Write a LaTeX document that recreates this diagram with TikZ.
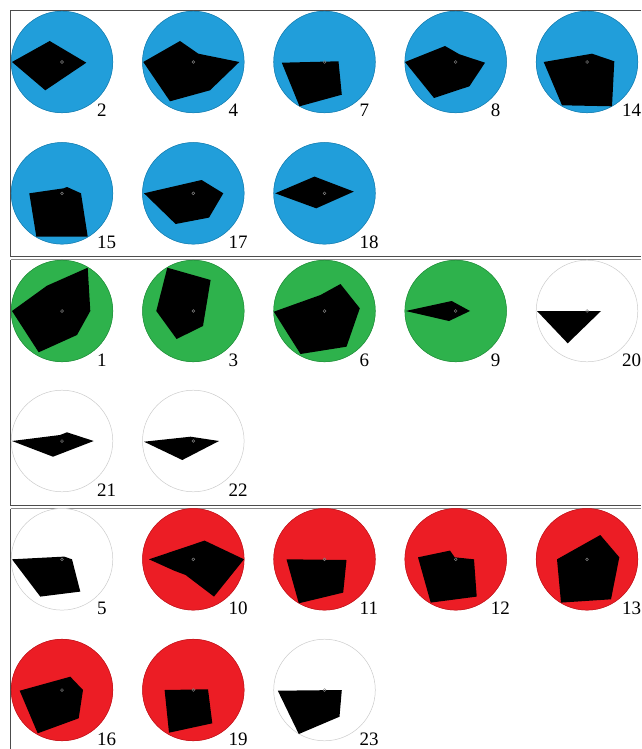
\documentclass[tikz,border=0pt]{standalone}
\usepackage{fontspec}
\setmainfont{Liberation Serif}
\definecolor{cblue}{RGB}{33,158,218}
\definecolor{cgreen}{RGB}{46,178,76}
\definecolor{cred}{RGB}{236,29,37}
\definecolor{cwhite}{RGB}{255,255,255}
\newcommand\cellglyph[5]{%
  \begin{scope}[shift={(#1,#2)}]
    \fill[#3] (0,0) circle[radius=51pt];
    \ifx#3cwhite\draw[ringline] (0,0) circle[radius=50.6pt];\else\draw[#3!80!black, line width=0.5pt] (0,0) circle[radius=50.8pt];\fi
    \begin{scope}
      \clip (0,0) circle[radius=51pt];
      \fill[black] #5 -- cycle;
    \end{scope}
    \draw[dotline] (0,0) circle[radius=1.4pt];
    \node[lab] (l#4) at (35,55) {#4};
  \end{scope}}
\begin{document}
\begin{tikzpicture}[x=1pt,y=-1pt,
  lab/.style={anchor=base west, inner sep=0pt, font=\fontsize{19}{21}\selectfont},
  ringline/.style={draw=black!55, line width=0.9pt},
  dotline/.style={draw=black!50, line width=0.5pt},
  frame/.style={draw=black!70, line width=1pt},
  frame2/.style={draw=black!45, line width=1pt}]
\useasboundingbox (0,0) rectangle (641,749);
% panel frames
\draw[frame] (641,11) -- (10.5,11) -- (10.5,256) -- (641,256);
\draw[frame2] (641,259.5) -- (10.5,259.5);
\draw[frame] (10.5,259.5) -- (10.5,505) -- (641,505);
\draw[frame2] (641,508.5) -- (10.5,508.5);
\draw[frame] (10.5,508.5) -- (10.5,749);
% panel 1 (blue)
\cellglyph{62}{62}{cblue}{2}{(-50,0) -- (-12.3,-21) -- (24.3,0.7) -- (-16.7,28.3)}
\cellglyph{193.3}{62}{cblue}{4}{(-50,0) -- (-13.3,-21) -- (5,-8.3) -- (46,0) -- (16.7,28.3) -- (-23.3,39.3)}
\cellglyph{324.5}{62}{cblue}{7}{(-42.7,0.7) -- (14,-0.7) -- (17.3,32.7) -- (-25,44.3)}
\cellglyph{455.7}{62}{cblue}{8}{(-50.7,0) -- (-10.7,-16) -- (3.7,-7.7) -- (29.3,0.7) -- (13.7,24.3) -- (-21.7,36)}
\cellglyph{587}{62}{cblue}{14}{(-43.3,0) -- (5,-8.3) -- (27.3,-0.7) -- (25,44.3) -- (-25,43.3)}
\cellglyph{62}{193.3}{cblue}{15}{(-32.7,0) -- (1.7,-5) -- (5,-6.3) -- (19,0) -- (25.7,43.3) -- (-25.7,43.3)}
\cellglyph{193.3}{193.3}{cblue}{17}{(-49.3,0) -- (8.3,-13.3) -- (30,0) -- (15.7,24.3) -- (-17.7,30.7)}
\cellglyph{324.5}{193.3}{cblue}{18}{(-49.3,0) -- (-10,-16.7) -- (29.3,-1.7) -- (-8.3,15)}
% panel 2 (green)
\cellglyph{62}{311}{cgreen}{1}{(-50,0) -- (-15,-25.3) -- (25.7,-43.3) -- (28.3,0) -- (15,24) -- (-23.3,41.3)}
\cellglyph{193.3}{311}{cgreen}{3}{(-26,-43.3) -- (17.3,-31) -- (9.7,15) -- (-16.7,28) -- (-37,0)}
\cellglyph{324.5}{311}{cgreen}{6}{(-50.7,0.7) -- (-4,-16) -- (16,-27) -- (35.3,-2.7) -- (22,35.7) -- (-24,43)}
\cellglyph{455.7}{311}{cgreen}{9}{(-50,0) -- (-4,-10) -- (14.3,0) -- (-6.7,10)}
\cellglyph{587}{311}{cwhite}{20}{(-50,0) -- (14,0) -- (-19.3,32.3)}
\cellglyph{62}{441}{cwhite}{21}{(-50,0) -- (-2,-6) -- (5,-8.7) -- (31.7,0) -- (-9,15.7)}
\cellglyph{193.3}{441}{cwhite}{22}{(-49.3,0.7) -- (-2.7,-4.3) -- (25.7,0) -- (-11,19)}
% panel 3 (red)
\cellglyph{62}{559.3}{cwhite}{5}{(-50,0) -- (2.3,-2.7) -- (10,0) -- (18.3,32.3) -- (-21.7,37.3)}
\cellglyph{193.3}{559.3}{cred}{10}{(-44.3,0) -- (11.3,-18.7) -- (50.7,0) -- (20.7,37.3) -- (-7.7,15.7) -- (-19.3,11.3)}
\cellglyph{324.5}{559.3}{cred}{11}{(-38,0) -- (22,0.7) -- (18.7,33.3) -- (-25.7,44)}
\cellglyph{455.7}{559.3}{cred}{12}{(-37.7,-2) -- (-5.7,-8.7) -- (-1,-2) -- (18.3,0) -- (21,37.3) -- (-25,43.3)}
\cellglyph{587}{559.3}{cred}{13}{(-30,0) -- (13.3,-24.3) -- (32.3,-2) -- (24,40) -- (-26,43.3)}
\cellglyph{62}{690}{cred}{16}{(-42.3,0.7) -- (8.3,-13.3) -- (21,0) -- (16.7,28.3) -- (-24.3,43.3)}
\cellglyph{193.3}{690}{cred}{19}{(-28.7,0) -- (14.7,-0.7) -- (19,33.3) -- (-24.3,42.7)}
\cellglyph{324.5}{690}{cwhite}{23}{(-46.7,0.7) -- (17.3,0) -- (15,26.7) -- (-25.7,44)}
\end{tikzpicture}
\end{document}
